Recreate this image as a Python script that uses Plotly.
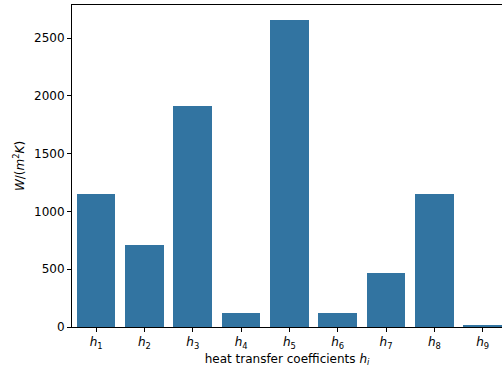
import plotly.graph_objects as go

# Heat transfer coefficients h1..h9 in W/(m^2 K)
labels = ["h1", "h2", "h3", "h4", "h5", "h6", "h7", "h8", "h9"]
tick_text = [f"<i>h</i><sub>{i}</sub>" for i in range(1, 10)]
values = [1150, 714, 1915, 122, 2655, 122, 470, 1150, 17]

positions = list(range(len(labels)))
bar_color = "#3274a1"
font_family = "DejaVu Sans"

fig = go.Figure(
    go.Bar(
        x=positions,
        y=values,
        width=0.8,
        marker=dict(color=bar_color, line=dict(width=0)),
        hoverinfo="skip",
    )
)

fig.update_layout(
    width=502,
    height=368,
    margin=dict(l=72, r=0, t=5, b=41),
    plot_bgcolor="white",
    paper_bgcolor="white",
    font=dict(family=font_family, size=12, color="black"),
    showlegend=False,
    bargap=0,
)

fig.update_xaxes(
    range=[-0.5, 8.4],
    tickmode="array",
    tickvals=positions,
    ticktext=tick_text,
    ticks="outside",
    ticklen=4,
    tickwidth=1,
    tickcolor="black",
    showline=True,
    linecolor="black",
    linewidth=1,
    mirror=True,
    showgrid=False,
    zeroline=False,
    tickfont=dict(size=12),
    title=dict(
        text="heat transfer coefficients <i>h</i><sub><i>i</i></sub>",
        font=dict(size=12),
        standoff=4,
    ),
)

fig.update_yaxes(
    range=[0, max(values) * 1.05],
    tickmode="array",
    tickvals=[0, 500, 1000, 1500, 2000, 2500],
    ticks="outside",
    ticklen=4,
    tickwidth=1,
    tickcolor="black",
    showline=True,
    linecolor="black",
    linewidth=1,
    mirror=False,
    showgrid=False,
    zeroline=False,
    tickfont=dict(size=12),
    title=dict(
        text="<i>W</i>/(<i>m</i><sup>2</sup><i>K</i>)",
        font=dict(size=12),
        standoff=6,
    ),
)

fig.write_html("out.html")
